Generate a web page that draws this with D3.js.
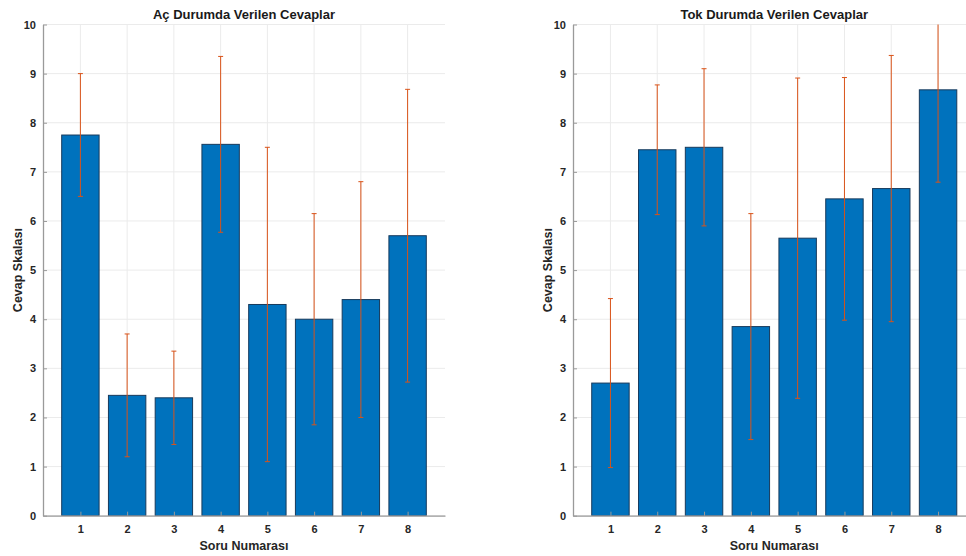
<!DOCTYPE html>
<html>
<head>
<meta charset="utf-8">
<script src="https://cdn.jsdelivr.net/npm/d3@7"></script>
<style>
  html, body { margin: 0; padding: 0; background: #fff; }
  svg { display: block; font-family: "Liberation Sans", Arial, sans-serif; }
</style>
</head>
<body>
<svg id="chart" width="966" height="556"></svg>
<script>
// ---- data ----
const questions = [1, 2, 3, 4, 5, 6, 7, 8];
const yTicks = [0, 1, 2, 3, 4, 5, 6, 7, 8, 9, 10];
const titles = ["Aç Durumda Verilen Cevaplar", "Tok Durumda Verilen Cevaplar"];
const xLabel = "Soru Numarası";
const yLabel = "Cevap Skalası";

const hungryMeans = [7.75, 2.45, 2.40, 7.56, 4.30, 4.00, 4.40, 5.70];
const hungryErrors = [1.25, 1.25, 0.95, 1.79, 3.20, 2.15, 2.40, 2.98];
const fullMeans = [2.70, 7.45, 7.50, 3.85, 5.65, 6.45, 6.66, 8.67];
const fullErrors = [1.72, 1.32, 1.60, 2.30, 3.26, 2.47, 2.71, 1.88];

const panels = [
  { title: titles[0], means: hungryMeans, errors: hungryErrors, left: 43, right: 445, ylab: 17 },
  { title: titles[1], means: fullMeans, errors: fullErrors, left: 573, right: 975.5, ylab: 547 }
];

const svg = d3.select("#chart");
const plotTop = 24.5, plotBottom = 515.7;

panels.forEach((p, pi) => {
  const x = d3.scaleLinear().domain([0.2, 8.8]).range([p.left, p.right]);
  const y = d3.scaleLinear().domain([0, 10]).range([plotBottom, plotTop]);
  const bw = (x(2) - x(1)) * 0.8;

  const clipId = "clip" + pi;
  svg.append("clipPath").attr("id", clipId)
    .append("rect").attr("x", p.left).attr("y", plotTop).attr("width", p.right - p.left).attr("height", plotBottom - plotTop);

  const g = svg.append("g");

  // grid
  g.append("g").selectAll("line").data(yTicks).join("line")
    .attr("x1", p.left).attr("x2", p.right)
    .attr("y1", d => y(d)).attr("y2", d => y(d))
    .attr("stroke", "#ebebeb").attr("stroke-width", 1);
  g.append("g").selectAll("line").data(questions).join("line")
    .attr("x1", d => x(d)).attr("x2", d => x(d))
    .attr("y1", plotTop).attr("y2", plotBottom)
    .attr("stroke", "#ebebeb").attr("stroke-width", 1);

  // bars
  const plot = g.append("g").attr("clip-path", `url(#${clipId})`);
  plot.selectAll("rect").data(questions).join("rect")
    .attr("x", (d) => x(d) - bw / 2)
    .attr("y", (d, i) => y(p.means[i]))
    .attr("width", bw)
    .attr("height", (d, i) => y(0) - y(p.means[i]))
    .attr("fill", "#0072BD")
    .attr("stroke", "#173a5c")
    .attr("stroke-width", 1);

  // error bars
  const eb = plot.append("g").attr("stroke", "#D95319").attr("stroke-width", 1).attr("fill", "none");
  questions.forEach((q, i) => {
    const hi = p.means[i] + p.errors[i], lo = p.means[i] - p.errors[i];
    eb.append("line").attr("x1", x(q)).attr("x2", x(q)).attr("y1", y(hi)).attr("y2", y(lo));
    eb.append("line").attr("x1", x(q) - 2.5).attr("x2", x(q) + 2.5).attr("y1", y(hi)).attr("y2", y(hi));
    eb.append("line").attr("x1", x(q) - 2.5).attr("x2", x(q) + 2.5).attr("y1", y(lo)).attr("y2", y(lo));
  });

  // axes
  const yAxis = d3.axisLeft(y).tickValues(yTicks).tickSizeInner(-4).tickSizeOuter(0).tickPadding(7).tickFormat(d3.format("d"));
  const ya = g.append("g").attr("transform", `translate(${p.left},0)`).call(yAxis);
  const xAxis = d3.axisBottom(x).tickValues(questions).tickSizeInner(-4).tickSizeOuter(0).tickPadding(10).tickFormat(d3.format("d"));
  const xa = g.append("g").attr("transform", `translate(0,${plotBottom})`).call(xAxis);
  [ya, xa].forEach(a => {
    a.select(".domain").attr("stroke", "#9a9a9a").attr("stroke-width", 1.3);
    a.selectAll(".tick line").attr("stroke", "#9a9a9a");
    a.selectAll(".tick text").attr("fill", "#262626").attr("font-size", 11).attr("font-weight", "bold")
      .attr("font-family", "'Liberation Sans', Arial, sans-serif");
  });

  // title
  svg.append("text").attr("x", (p.left + p.right) / 2).attr("y", 18.5)
    .attr("text-anchor", "middle").attr("font-size", 13).attr("font-weight", "bold").attr("fill", "#1a1a1a")
    .text(p.title);
  // x label
  svg.append("text").attr("x", (p.left + p.right) / 2).attr("y", 549.5)
    .attr("text-anchor", "middle").attr("font-size", 12.5).attr("font-weight", "bold").attr("fill", "#262626")
    .text(xLabel);
  // y label
  svg.append("text").attr("transform", `translate(${p.ylab + 4.5},${(plotTop + plotBottom) / 2}) rotate(-90)`)
    .attr("text-anchor", "middle").attr("font-size", 12.5).attr("font-weight", "bold").attr("fill", "#262626")
    .text(yLabel);
});
</script>
</body>
</html>
